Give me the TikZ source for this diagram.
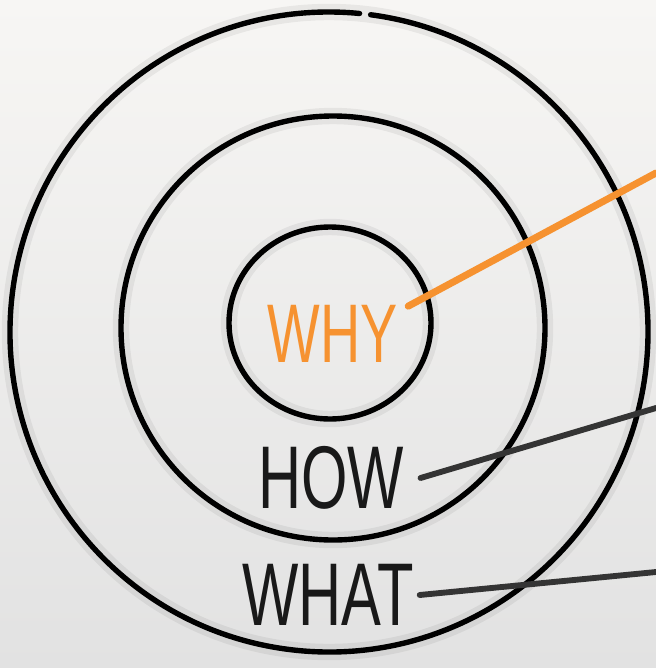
\documentclass[tikz,border=0pt]{standalone}
\usepackage{fontspec}
\newfontfamily\handfont[FakeStretch=0.67]{Liberation Sans}
\definecolor{whyorange}{RGB}{246,146,48}
\definecolor{linegray}{RGB}{52,52,52}
\definecolor{papertop}{RGB}{247,246,244}
\definecolor{paperbottom}{RGB}{226,226,226}
\begin{document}
\begin{tikzpicture}[x=0.03cm, y=-0.03cm, line join=round, line cap=round,
		ring/.style={line width=4.6pt, black},
		halo/.style={line width=14pt, black, opacity=0.06},
		word/.style={inner sep=0pt, font=\handfont\fontsize{76}{76}\selectfont},
		pointer/.style={line width=5pt, linegray}]
		\useasboundingbox (0,0) rectangle (656,668);
		\shade[top color=papertop, bottom color=paperbottom] (0,0) rectangle (656,668);
		% the three rings
		\draw[halo] (330,323) ellipse [x radius=101, y radius=96];
		\draw[halo] (333,328) ellipse [x radius=212, y radius=212];
		\draw[halo] (329,332) ellipse [x radius=319, y radius=320];
		\draw[ring] (330,323) ellipse [x radius=101, y radius=96];
		\draw[ring] (333,328) ellipse [x radius=212, y radius=212];
		\draw[ring] ([shift={(-82.5:319 and 320)}]329,332) arc [start angle=-82.5, end angle=275.5, x radius=319, y radius=320];
		% labels
		\node[word, text=whyorange, font=\handfont\fontsize{71}{71}\selectfont] (why) at (333,334) {WHY};
		\node[word, text=black!90] (how) at (331,478) {HOW};
		\node[word, text=black!90] (what) at (328,595) {WHAT};
		\coordinate (whyend) at (656,173);
		\coordinate (howend) at (656,408);
		\coordinate (whatend) at (656,572);
		\draw[line width=6pt, whyorange] ([shift={(10,1)}]why.north east) -- (whyend);
		\draw[pointer] ([xshift=14]how.east) -- (howend);
		\draw[pointer] ([xshift=5]what.east) -- (whatend);
	\end{tikzpicture}
\end{document}
